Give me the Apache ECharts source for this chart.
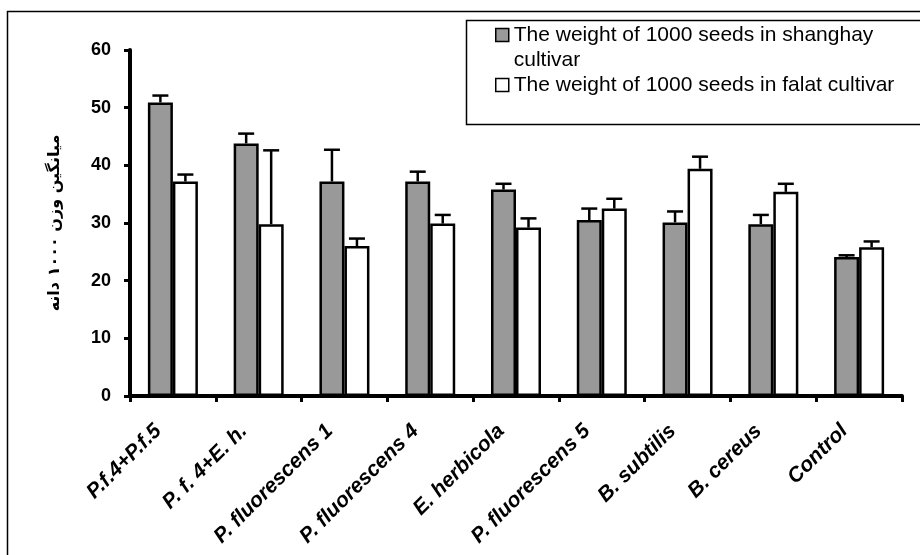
<!DOCTYPE html>
<html>
<head>
<meta charset="utf-8">
<script src="https://cdn.jsdelivr.net/npm/echarts@6/dist/echarts.min.js"></script>
<style>
  html, body { margin: 0; padding: 0; background: #fff; }
  #chart { width: 920px; height: 555px; }
</style>
</head>
<body>
<div id="chart"></div>
<script>
// Treatments (bacterial inoculants) on the x axis
const categories = ['P.f.4+P.f.5', 'P. f. 4+E. h.', 'P. fluorescens 1', 'P. fluorescens 4',
  'E. herbicola', 'P. fluorescens 5', 'B. subtilis', 'B. cereus', 'Control'];

// Mean 1000-seed weight and standard error, shanghay cultivar
const shanghayMean = [50.9, 43.8, 37.2, 37.2, 35.8, 30.5, 30.1, 29.8, 24.1];
const shanghayErr  = [1.2, 1.7, 5.5, 1.7, 1.0, 2.0, 1.9, 1.6, 0.3];

// Mean 1000-seed weight and standard error, falat cultivar
const falatMean = [37.2, 29.8, 26.0, 29.9, 29.2, 32.5, 39.4, 35.4, 25.8];
const falatErr  = [1.2, 12.8, 1.3, 1.5, 1.6, 1.7, 2.1, 1.4, 1.0];

const yTicks = [0, 10, 20, 30, 40, 50, 60];

const nameShanghay = 'The weight of 1000 seeds in shanghay cultivar';
const nameFalat = 'The weight of 1000 seeds in falat cultivar';
const yName = 'میانگین وزن ۱۰۰۰ دانه';

const BAR_W = 25;
const FONT = '"Liberation Sans", Arial, sans-serif';

function errorBars(offset) {
  return function (params, api) {
    const i = api.value(0);
    const v = api.value(1);
    const e = api.value(2);
    const base = api.coord([i, v]);
    const top = api.coord([i, v + e]);
    const x = base[0] + offset;
    const st = { stroke: '#000', lineWidth: 2.5 };
    return {
      type: 'group',
      children: [
        { type: 'line', shape: { x1: x, y1: base[1], x2: x, y2: top[1] }, style: st },
        { type: 'line', shape: { x1: x - 8, y1: top[1], x2: x + 8, y2: top[1] }, style: st }
      ]
    };
  };
}

const chart = echarts.init(document.getElementById('chart'), null, { renderer: 'canvas' });

chart.setOption({
  animation: false,
  backgroundColor: '#fff',
  textStyle: { fontFamily: FONT },
  graphic: [
    { type: 'rect', silent: true, z: -1,
      shape: { x: 7.5, y: 11.5, width: 960, height: 600 },
      style: { fill: 'none', stroke: '#000', lineWidth: 1.5 } },
    { type: 'rect', silent: true, z: -1,
      shape: { x: 466.5, y: 20.5, width: 520, height: 104 },
      style: { fill: '#fff', stroke: '#000', lineWidth: 1.5 } }
  ],
  legend: [
    {
      // leading blank line keeps the first text line level with the swatch
      left: 495, top: -2.5, padding: 0, orient: 'vertical',
      icon: 'rect', itemWidth: 13, itemHeight: 13, itemGap: 0,
      itemStyle: { borderWidth: 1.5 },
      formatter: () => '\nThe weight of 1000 seeds in shanghay\ncultivar',
      textStyle: { fontFamily: FONT, fontSize: 21, color: '#000', lineHeight: 25 },
      data: [nameShanghay]
    },
    {
      left: 495, top: 72.5, padding: 0, orient: 'vertical',
      icon: 'rect', itemWidth: 13, itemHeight: 13,
      itemStyle: { borderWidth: 1.5 },
      textStyle: { fontFamily: FONT, fontSize: 21, color: '#000', lineHeight: 25 },
      data: [nameFalat]
    }
  ],
  grid: { left: 130, right: 18, top: 50, bottom: 159, containLabel: false },
  xAxis: {
    type: 'category',
    data: categories,
    boundaryGap: true,
    axisLine: { show: true, lineStyle: { color: '#000', width: 4 } },
    axisTick: { show: true, length: 6, lineStyle: { color: '#000', width: 3 } },
    axisLabel: {
      interval: 0, rotate: 45, margin: 17,
      fontFamily: FONT, fontSize: 21, fontWeight: 'bold', fontStyle: 'italic',
      color: '#000', padding: [0, 21, 0, 0]
    },
    splitLine: { show: false }
  },
  yAxis: {
    type: 'value',
    min: yTicks[0], max: yTicks[yTicks.length - 1], interval: yTicks[1] - yTicks[0],
    name: yName,
    nameLocation: 'middle', nameGap: 67, nameRotate: 90,
    nameTextStyle: { fontFamily: '"DejaVu Sans", sans-serif', fontSize: 16, fontWeight: 'bold', color: '#000' },
    axisLine: { show: true, lineStyle: { color: '#000', width: 4 } },
    axisTick: { show: true, length: 6, lineStyle: { color: '#000', width: 3 } },
    axisLabel: { margin: 19, fontFamily: FONT, fontSize: 18, fontWeight: 'bold', color: '#000' },
    splitLine: { show: false }
  },
  series: [
    {
      name: nameShanghay, type: 'bar', barWidth: BAR_W, barGap: '0%',
      data: shanghayMean,
      itemStyle: { color: '#999999', borderColor: '#000', borderWidth: 2.5 }
    },
    {
      name: nameFalat, type: 'bar', barWidth: BAR_W, barGap: '0%',
      data: falatMean,
      itemStyle: { color: '#ffffff', borderColor: '#000', borderWidth: 2.5 }
    },
    {
      type: 'custom', z: 5, silent: true,
      renderItem: errorBars(-BAR_W / 2),
      encode: { x: 0, y: 1 },
      data: shanghayMean.map((v, i) => [i, v, shanghayErr[i]])
    },
    {
      type: 'custom', z: 5, silent: true,
      renderItem: errorBars(BAR_W / 2),
      encode: { x: 0, y: 1 },
      data: falatMean.map((v, i) => [i, v, falatErr[i]])
    }
  ]
});
</script>
</body>
</html>
